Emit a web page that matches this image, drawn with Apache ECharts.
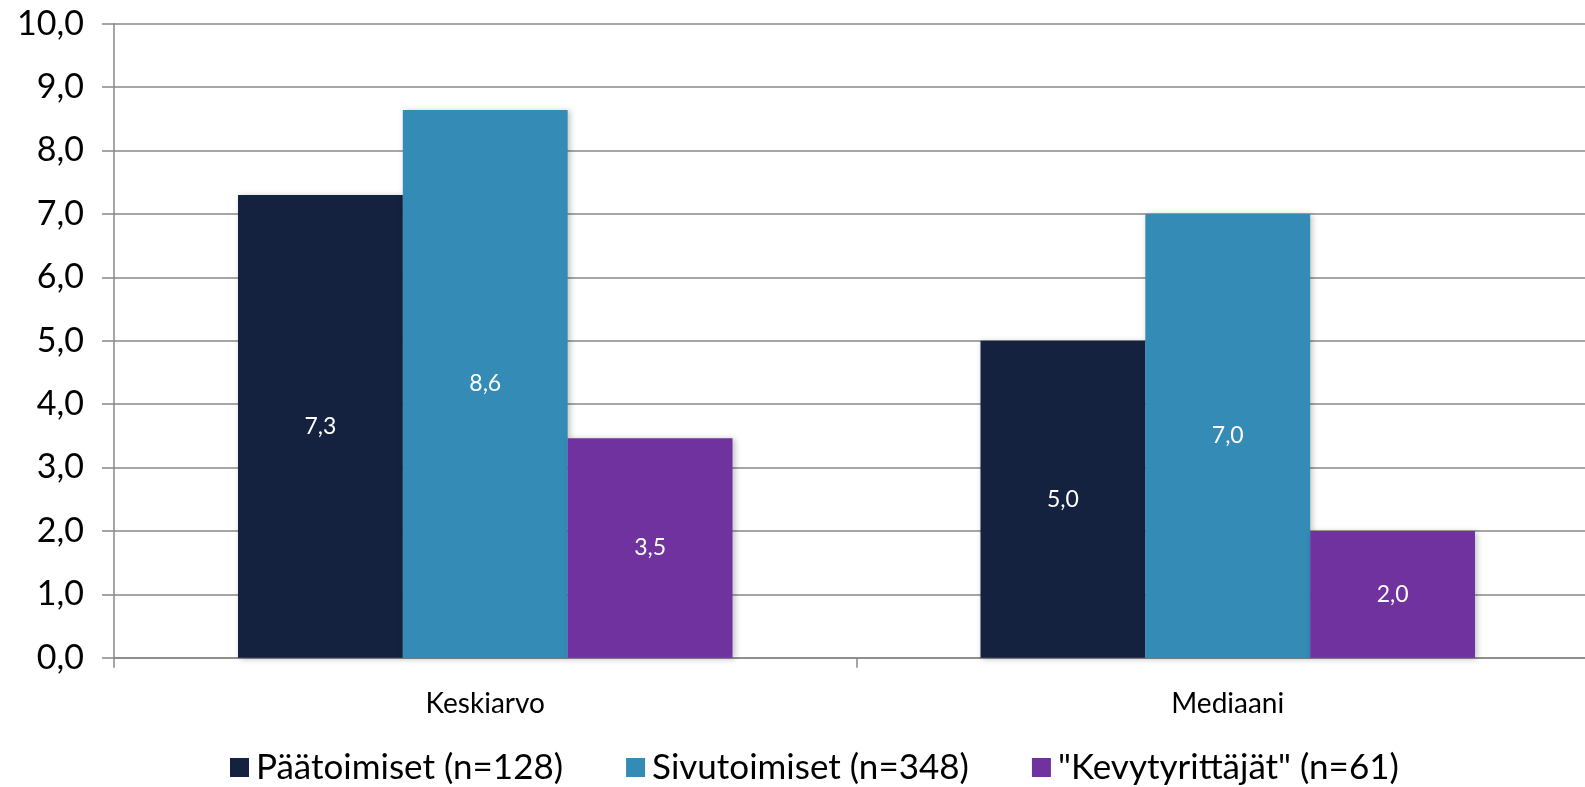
<!DOCTYPE html>
<html>
<head>
<meta charset="utf-8">
<script src="https://cdn.jsdelivr.net/npm/echarts@6/dist/echarts.min.js"></script>
<style>
html,body{margin:0;padding:0;background:#fff;}
#c{width:1585px;height:787px;}
</style>
</head>
<body>
<div id="c"></div>
<script>
const categories = ['Keskiarvo', 'Mediaani'];
const seriesNames = ['Päätoimiset (n=128)', 'Sivutoimiset (n=348)', '"Kevytyrittäjät" (n=61)'];
const paatoimiset = [7.3, 5.0];
const sivutoimiset = [8.64, 7.0];
const kevytyrittajat = [3.46, 2.0];
const colors = ['#14213F', '#348BB5', '#70329E'];

const fmt = v => Number(v).toFixed(1).replace('.', ',');
const FONT = 'Lato, "Open Sans", sans-serif';

function mk(name, data, color) {
  return {
    name: name,
    type: 'bar',
    data: data,
    barGap: '0%',
    barCategoryGap: '33.4%',
    itemStyle: {
      color: color,
      shadowColor: 'rgba(0,0,0,0.25)',
      shadowBlur: 6,
      shadowOffsetX: 2,
      shadowOffsetY: 1
    },
    label: {
      show: true,
      position: 'inside',
      color: '#fff',
      fontFamily: FONT,
      fontSize: 23,
      formatter: p => fmt(p.value)
    }
  };
}

const chart = echarts.init(document.getElementById('c'), null, {renderer: 'canvas'});
chart.setOption({
  animation: false,
  backgroundColor: '#fff',
  grid: {left: 114, right: -14, top: 23.7, bottom: 129.3, containLabel: false, outerBoundsMode: 'none'},
  legend: {
    data: seriesNames,
    left: 230,
    top: 750,
    padding: 0,
    icon: 'rect',
    itemWidth: 19,
    itemHeight: 19,
    itemGap: 63,
    textStyle: {fontFamily: FONT, fontSize: 35, color: '#000', padding: [0, 0, 0, 2]}
  },
  xAxis: {
    type: 'category',
    data: categories,
    axisLine: {lineStyle: {color: '#888', width: 1.5}},
    axisTick: {show: true, length: 10, lineStyle: {color: '#888', width: 1.5}},
    axisLabel: {color: '#000', fontFamily: FONT, fontSize: 28, margin: 32}
  },
  yAxis: {
    type: 'value',
    min: 0,
    max: 10,
    interval: 1,
    axisLine: {show: true, lineStyle: {color: '#888', width: 1.5}},
    axisTick: {show: true, length: 12, lineStyle: {color: '#888', width: 1.5}},
    splitLine: {show: true, lineStyle: {color: '#888', width: 1.5}},
    axisLabel: {color: '#000', fontFamily: FONT, fontSize: 34, margin: 30, formatter: v => fmt(v)}
  },
  series: [
    mk(seriesNames[0], paatoimiset, colors[0]),
    mk(seriesNames[1], sivutoimiset, colors[1]),
    mk(seriesNames[2], kevytyrittajat, colors[2])
  ]
});
</script>
</body>
</html>
